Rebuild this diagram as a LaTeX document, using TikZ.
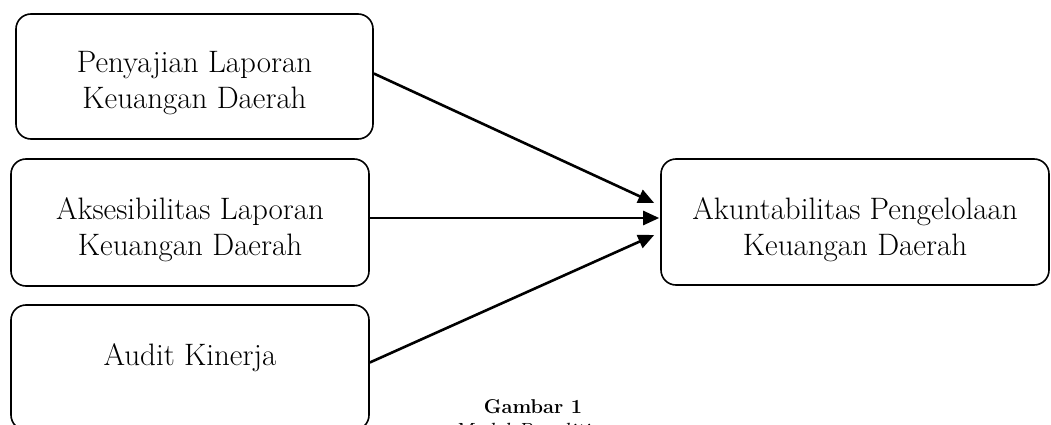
\documentclass[tikz,border=0pt]{standalone}
\usepackage{fontspec}
\usetikzlibrary{arrows.meta,calc}
\begin{document}
\begin{tikzpicture}[x=1pt,y=-1pt,
  box/.style={draw=black,line width=1.6pt,rounded corners=15pt,inner sep=0pt},
  txt/.style={align=center,inner sep=0pt,font=\fontsize{31}{36}\selectfont\addfontfeatures{FakeBold=0.6}},
  arr/.style={line width=2.6pt,-{Triangle[length=16pt,width=14pt]}},
  capb/.style={inner sep=0pt,font=\fontsize{20}{26}\selectfont\bfseries},
  capi/.style={inner sep=0pt,font=\fontsize{22}{26}\selectfont\itshape}]
\useasboundingbox (0,0) rectangle (1051,425);
\clip (0,0) rectangle (1051,425);
\node[box,minimum width=357pt,minimum height=125pt] (a) at (194.5,76.5) {};
\node[txt] (at) at ($(a.center)+(0,7)$) {Penyajian Laporan\\Keuangan Daerah};
\node[box,minimum width=358pt,minimum height=127pt] (b) at (190,222.5) {};
\node[txt] (bt) at ($(b.center)+(0,7)$) {Aksesibilitas Laporan\\Keuangan Daerah};
\node[box,minimum width=358pt,minimum height=125pt] (c) at (190,367.5) {};
\node[txt,anchor=base] (ct) at (190,365) {Audit Kinerja};
\node[box,minimum width=388pt,minimum height=126pt] (d) at (855,222) {};
\node[txt] (dt) at ($(d.center)+(0,8)$) {Akuntabilitas Pengelolaan\\Keuangan Daerah};
\coordinate (d1) at ($(d.west)+(-6,-19)$);
\coordinate (d2) at ($(d.west)+(-1,-4)$);
\coordinate (d3) at ($(d.west)+(-6,13)$);
\draw[arr] ($(a.east)+(0,-3)$) -- (d1);
\draw[arr] (b.east |- d2) -- (d2);
\draw[arr] ($(c.east)+(0,-5)$) -- (d3);
\node[capb,anchor=base] (cap1) at (533,413) {Gambar 1};
\node[capi,anchor=base] (cap2) at (533,438) {Model Penelitian};
\end{tikzpicture}
\end{document}
